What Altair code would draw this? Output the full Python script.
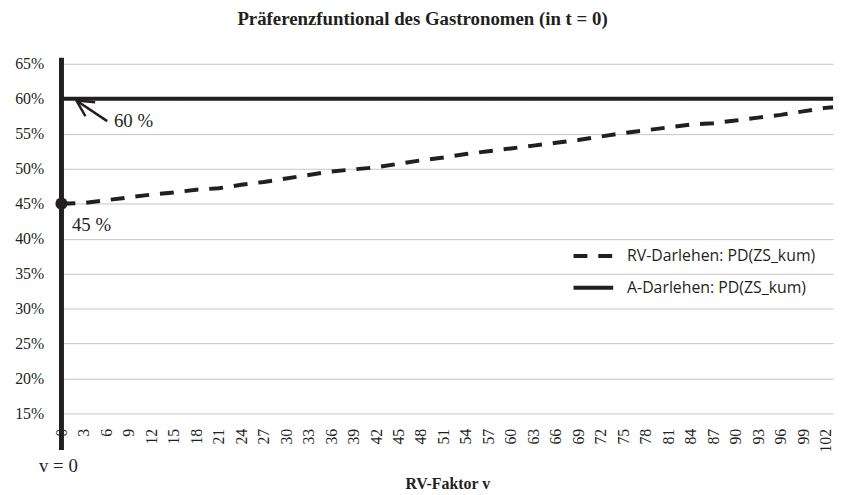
import altair as alt
import pandas as pd

# ---- data ----
v_values = [0, 3, 6, 9, 12, 15, 18, 21, 24, 27, 30, 33, 36, 39, 42, 45, 48, 51,
            54, 57, 60, 63, 66, 69, 72, 75, 78, 81, 84, 87, 90, 93, 96, 99, 102, 103]
rv_pd = [45.0, 45.1, 45.5, 45.9, 46.3, 46.6, 47.0, 47.2, 47.7, 48.1, 48.6, 49.1,
         49.6, 49.9, 50.2, 50.7, 51.2, 51.6, 52.1, 52.5, 52.9, 53.3, 53.7, 54.1,
         54.6, 55.1, 55.5, 55.9, 56.3, 56.5, 56.9, 57.3, 57.7, 58.2, 58.7, 58.8]
a_v = [0, 103]
a_pd = [60.0, 60.0]

rv_name = "RV-Darlehen: PD(ZS_kum)"
a_name = "A-Darlehen: PD(ZS_kum)"

x_ticks = list(range(0, 103, 3))
y_ticks = [0.15, 0.20, 0.25, 0.30, 0.35, 0.40, 0.45, 0.50, 0.55, 0.60, 0.65]

title_text = "Präferenzfuntional des Gastronomen (in t = 0)"
x_title = "RV-Faktor v"

# annotations (data units)
ann_text = ["60 %", "45 %", "v = 0"]
ann_v = [7.0, 1.4, -3.0]
ann_pd = [56.8, 41.9, 7.5]

arrow_v = [6.1, 1.98, 1.98]
arrow_pd = [56.8, 59.76, 59.76]
arrow_v2 = [1.98, 4.5, 3.2]
arrow_pd2 = [59.76, 59.5, 57.5]

start_point_v = [0]
start_point_pd = [45.0]

# ---- tables ----
df_lines = pd.concat([
    pd.DataFrame({"v": v_values, "pd": [p / 100 for p in rv_pd], "series": rv_name}),
    pd.DataFrame({"v": a_v, "pd": [p / 100 for p in a_pd], "series": a_name}),
], ignore_index=True)
df_text = pd.DataFrame({"v": ann_v, "pd": [p / 100 for p in ann_pd], "label": ann_text})
df_arrow = pd.DataFrame({"v": arrow_v, "pd": [p / 100 for p in arrow_pd],
                         "v2": arrow_v2, "pd2": [p / 100 for p in arrow_pd2]})
df_point = pd.DataFrame({"v": start_point_v, "pd": [p / 100 for p in start_point_pd]})

dark = "#231f20"
serif = "Liberation Serif"

x_scale = alt.Scale(domain=[0, 103], nice=False, zero=False)
y_scale = alt.Scale(domain=[0.15, 0.65], nice=False, zero=False)

x_axis = alt.Axis(values=x_ticks, labelAngle=-90, labelFont=serif, labelFontSize=16,
                  labelColor=dark, labelPadding=15, ticks=False, tickSize=0, domain=False,
                  grid=False, title=x_title, titleFont=serif, titleFontSize=16,
                  titleFontWeight="bold", titleColor=dark, titlePadding=24,
                  labelOverlap=False, labelFlush=False, labelBound=False)
y_axis = alt.Axis(values=y_ticks, format=".0%", labelFont=serif, labelFontSize=16,
                  labelColor=dark, labelPadding=18, ticks=False, tickSize=0, domain=False,
                  grid=True, gridColor="#c4c4c4", gridWidth=1, title=None,
                  labelOverlap=False, labelFlush=False)

X = alt.X("v:Q", scale=x_scale, axis=x_axis, title=x_title)
Y = alt.Y("pd:Q", scale=y_scale, axis=y_axis, title=None)

lines = alt.Chart(df_lines).mark_line(color=dark, strokeWidth=4).encode(
    x=X, y=Y,
    strokeDash=alt.StrokeDash(
        "series:N",
        scale=alt.Scale(domain=[rv_name, a_name], range=[[14, 11], [1, 0]]),
        legend=alt.Legend(title=None, orient="none", legendX=515, legendY=172,
                          symbolType="stroke", symbolSize=1600, symbolStrokeWidth=4,
                          symbolStrokeColor=dark, labelFont="Open Sans", labelFontSize=16,
                          labelColor=dark, labelOffset=12, labelLimit=400,
                          rowPadding=2, padding=0),
    ),
)

vline = alt.Chart(df_point).mark_rule(color=dark, strokeWidth=5).encode(
    x=X, y=alt.value(-6), y2=alt.value(390)
)

point = alt.Chart(df_point).mark_point(filled=True, color=dark, size=150, opacity=1).encode(
    x=X, y=Y
)

texts = alt.Chart(df_text).mark_text(font=serif, fontSize=19, color=dark, align="left",
                                     baseline="middle").encode(x=X, y=Y, text="label:N")

arrow = alt.Chart(df_arrow).mark_rule(color=dark, strokeWidth=2.5).encode(
    x=X, y=Y, x2="v2:Q", y2="pd2:Q"
)

chart = alt.layer(lines, vline, point, texts, arrow).properties(
    width=779, height=353,
    autosize=alt.AutoSizeParams(type="none"),
    padding={"left": 54, "top": 54, "right": 4, "bottom": 80},
    title=alt.TitleParams(title_text, font=serif, fontSize=19, fontWeight="bold",
                          color=dark, anchor="middle", baseline="alphabetic",
                          offset=12, dx=-25),
).configure_view(stroke=None).configure_axis(
    labelFont=serif, titleFont=serif
)

chart.save("out.html", embed_options={"renderer": "svg", "actions": False})
